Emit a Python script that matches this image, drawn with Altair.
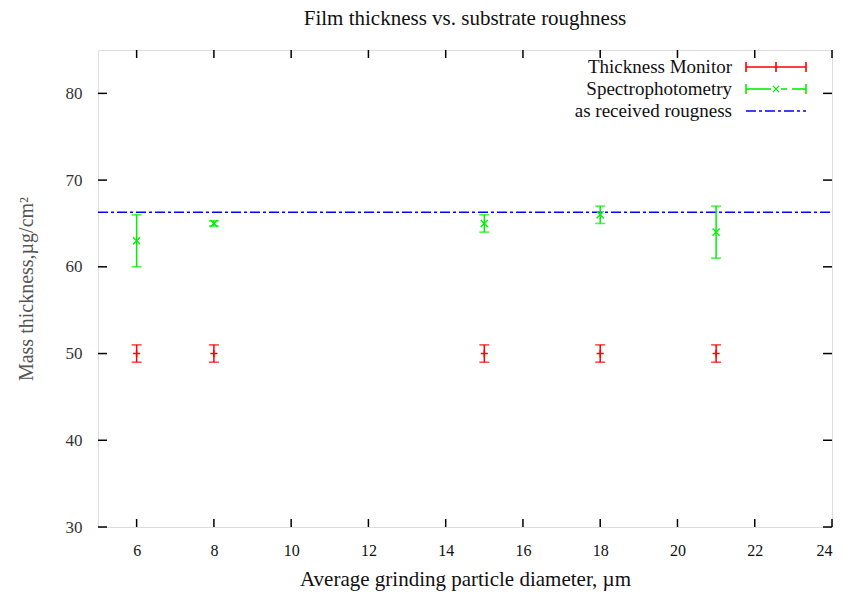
import altair as alt
import pandas as pd

# ---- data ----
x_pos = [6, 8, 15, 18, 21]
tm_y = [50, 50, 50, 50, 50]
tm_err = [1, 1, 1, 1, 1]
sp_y = [63, 65, 65, 66, 64]
sp_err = [3, 0.3, 1, 1, 3]
rough_y = 66.3
x_ticks = [6, 8, 10, 12, 14, 16, 18, 20, 22, 24]
y_ticks = [30, 40, 50, 60, 70, 80]
legend_names = ["Thickness Monitor", "Spectrophotometry", "as received rougness"]

W, H = 734, 477
XD = [5, 24]
YD = [30, 85]

xs = alt.Scale(domain=XD, nice=False, zero=False)
ys = alt.Scale(domain=YD, nice=False, zero=False)

tm = pd.DataFrame({"x": x_pos, "y": tm_y,
                   "lo": [a - b for a, b in zip(tm_y, tm_err)],
                   "hi": [a + b for a, b in zip(tm_y, tm_err)]})
sp = pd.DataFrame({"x": x_pos, "y": sp_y,
                   "lo": [a - b for a, b in zip(sp_y, sp_err)],
                   "hi": [a + b for a, b in zip(sp_y, sp_err)]})
rough = pd.DataFrame({"x": [XD[0]], "x2": [XD[1]], "y": [rough_y]})
xt = pd.DataFrame({"x": x_ticks})
yt = pd.DataFrame({"y": y_ticks})

RED = "#ff0000"
GREEN = "#00f000"
BLUE = "#0000ff"
PLUS = "M-1,0L1,0M0,-1L0,1"
CROSS = "M-1,-1L1,1M-1,1L1,-1"
DASHDOT = [10, 3, 3, 3]
SERIF = "Liberation Serif"

# base layer carrying axes
base = alt.Chart(rough).mark_rule(color=BLUE, strokeWidth=1.6, strokeDash=DASHDOT).encode(
    x=alt.X("x:Q", scale=xs,
            axis=alt.Axis(values=x_ticks, format="d", ticks=False, domain=False, grid=False,
                          labelFont=SERIF, labelFontSize=16, labelColor="#111",
                          labelPadding=15,
                          title="Average grinding particle diameter, µm",
                          titleFont=SERIF, titleFontSize=21, titleFontWeight="normal",
                          titleColor="#111", titlePadding=10)),
    x2="x2:Q",
    y=alt.Y("y:Q", scale=ys,
            axis=alt.Axis(values=y_ticks, format="d", ticks=False, domain=False, grid=False,
                          labelFont="Liberation Sans Narrow", labelFontSize=17, labelColor="#333",
                          labelPadding=16,
                          title="Mass thickness,µg/cm²",
                          titleFont=SERIF, titleFontSize=20, titleFontWeight="normal",
                          titleColor="#555", titlePadding=29)),
)

def tick_rules(df, ch, v0, v1):
    if ch == "x":
        return alt.Chart(df).mark_rule(color="#000", strokeWidth=1.5).encode(
            x=alt.X("x:Q", scale=xs), y=alt.value(v0), y2=alt.value(v1))
    return alt.Chart(df).mark_rule(color="#000", strokeWidth=1.5).encode(
        y=alt.Y("y:Q", scale=ys), x=alt.value(v0), x2=alt.value(v1))

ticks = [
    tick_rules(xt, "x", H, H - 8),
    tick_rules(xt, "x", 0, 8),
    tick_rules(yt, "y", 0, 9),
    tick_rules(yt, "y", W, W - 9),
]

def errbars(df, color, shape):
    bar = alt.Chart(df).mark_rule(color=color, strokeWidth=1.5).encode(
        x=alt.X("x:Q", scale=xs), y=alt.Y("lo:Q", scale=ys), y2="hi:Q")
    cap_lo = alt.Chart(df).mark_tick(color=color, orient="horizontal", size=10, thickness=1.6).encode(
        x=alt.X("x:Q", scale=xs), y=alt.Y("lo:Q", scale=ys))
    cap_hi = alt.Chart(df).mark_tick(color=color, orient="horizontal", size=10, thickness=1.6).encode(
        x=alt.X("x:Q", scale=xs), y=alt.Y("hi:Q", scale=ys))
    pt = alt.Chart(df).mark_point(shape=shape, color=color, size=50, strokeWidth=1.4, filled=False,
                                  opacity=1).encode(
        x=alt.X("x:Q", scale=xs), y=alt.Y("y:Q", scale=ys))
    return [bar, cap_lo, cap_hi, pt]

# ---- legend (gnuplot style key) ----
LX_TEXT = 634
LX0, LX1, LXM = 648, 708, 678
rows_y = [17, 39, 61]
leg = []
for name, yy in zip(legend_names, rows_y):
    leg.append(alt.Chart(pd.DataFrame({"t": [name]})).mark_text(
        align="right", baseline="middle", font=SERIF, fontSize=19, color="#111").encode(
        text="t:N", x=alt.value(LX_TEXT), y=alt.value(yy)))

one = pd.DataFrame({"a": [0]})
def seg(x0, x1, yy, color, dash=None):
    kw = dict(color=color, strokeWidth=1.6)
    if dash:
        kw["strokeDash"] = dash
    return alt.Chart(one).mark_rule(**kw).encode(
        x=alt.value(x0), x2=alt.value(x1), y=alt.value(yy))
def vseg(xx, yy, color):
    return alt.Chart(one).mark_rule(color=color, strokeWidth=1.6).encode(
        x=alt.value(xx), y=alt.value(yy - 5), y2=alt.value(yy + 5))
def sym(xx, yy, color, shape):
    return alt.Chart(one).mark_point(shape=shape, color=color, size=40, strokeWidth=1.3,
                                     filled=False, opacity=1).encode(
        x=alt.value(xx), y=alt.value(yy))

r0, r1, r2 = rows_y
leg += [seg(LX0, LX1, r0, RED), vseg(LX0, r0, RED), vseg(LX1, r0, RED), vseg(LXM, r0, RED)]
leg += [seg(LX0, LXM - 5, r1, GREEN), seg(LXM + 5, LXM + 11, r1, GREEN), seg(LXM + 16, LX1, r1, GREEN),
        vseg(LX0, r1, GREEN), vseg(LX1, r1, GREEN), sym(LXM, r1, GREEN, CROSS)]
leg += [seg(LX0, LX1, r2, BLUE, DASHDOT)]

layers = [base] + ticks + errbars(tm, RED, PLUS) + errbars(sp, GREEN, CROSS) + leg

chart = alt.layer(*layers).properties(
    width=W, height=H,
    title=alt.TitleParams("Film thickness vs. substrate roughness", font=SERIF,
                          fontSize=21, fontWeight="normal", color="#111", anchor="middle", offset=20),
    padding={"left": 98, "top": 50, "right": 13, "bottom": 66},
    autosize=alt.AutoSizeParams(type="none"),
).configure_view(stroke="#000", strokeWidth=1.6).configure(background="white")

chart.save("out.html", embed_options={"renderer": "svg", "actions": False})
